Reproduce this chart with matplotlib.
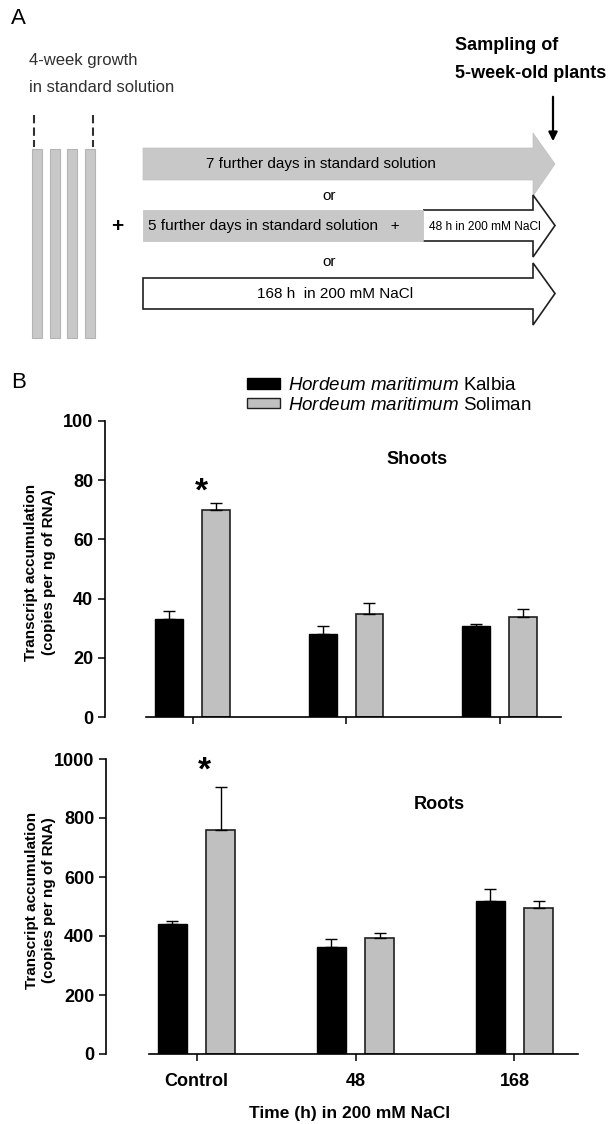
import numpy as np
import matplotlib
matplotlib.use('Agg')
import matplotlib.pyplot as plt
from matplotlib.patches import Polygon, Rectangle

# ---- data ----
groups = ['Control', '48', '168']
strains = ['Kalbia', 'Soliman']
shoots_kalbia = [33.2, 28.0, 30.6]
shoots_kalbia_err = [2.7, 2.8, 0.7]
shoots_soliman = [69.9, 34.9, 33.9]
shoots_soliman_err = [2.3, 3.7, 2.5]
roots_kalbia = [439, 362, 520]
roots_kalbia_err = [13, 27, 38]
roots_soliman = [758, 392, 495]
roots_soliman_err = [146, 17, 25]

plt.rcParams['font.family'] = ['Liberation Sans', 'DejaVu Sans']
plt.rcParams['mathtext.fontset'] = 'custom'
plt.rcParams['mathtext.it'] = 'Liberation Sans:italic'
plt.rcParams['mathtext.rm'] = 'Liberation Sans'

fig = plt.figure(figsize=(6.15, 11.24), dpi=100)

# ---- panel A : schematic drawn in pixel coordinates ----
sk = fig.add_axes([0, 0, 1, 1])
sk.set_xlim(0, 615)
sk.set_ylim(1124, 0)
sk.axis('off')

sk.text(11, 18, 'A', fontsize=16, va='center', ha='left')
sk.text(29, 60, '4-week growth', fontsize=12, color='#303030', va='center')
sk.text(29, 88, 'in standard solution', fontsize=12, color='#303030', va='center')
for x in (34, 93):
    sk.plot([x, x], [115, 147], color='#303030', lw=1.5, ls=(0, (4, 2)))
for x in (32, 50, 67, 85):
    sk.add_patch(Rectangle((x, 149), 10, 189, facecolor='#c8c8c8', edgecolor='#b4b4b4', lw=0.8))
sk.text(117, 227, '+', fontsize=15, fontweight='bold', ha='center', va='center')

x0, xb, xt = 143, 533, 555


def arrow(y0, y1, fc, ec, lw):
    yc = (y0 + y1) / 2
    pts = [(x0, y0), (xb, y0), (xb, y0 - 15), (xt, yc), (xb, y1 + 16), (xb, y1), (x0, y1)]
    sk.add_patch(Polygon(pts, closed=True, facecolor=fc, edgecolor=ec, lw=lw))


arrow(148, 180, '#c8c8c8', '#c0c0c0', 0.5)
sk.text(321, 164, '7 further days in standard solution', fontsize=11, ha='center', va='center')
sk.text(329, 196, 'or', fontsize=11, ha='center', va='center')
# second arrow: grey shaft then white NaCl part
pts = [(423, 210), (xb, 210), (xb, 195), (xt, 225.5), (xb, 257), (xb, 241), (423, 241)]
sk.add_patch(Polygon(pts, closed=False, facecolor='white', edgecolor='#202020', lw=1.2))
sk.add_patch(Rectangle((x0, 210), 423 - x0, 31, facecolor='#c8c8c8', edgecolor='#c0c0c0', lw=0.5))
sk.text(148, 226, '5 further days in standard solution   +', fontsize=11, ha='left', va='center')
sk.text(485, 227, '48 h in 200 mM NaCl', fontsize=8.6, ha='center', va='center')
sk.text(329, 262, 'or', fontsize=11, ha='center', va='center')
arrow(278, 309, 'white', '#202020', 1.2)
sk.text(335, 294, '168 h  in 200 mM NaCl', fontsize=11, ha='center', va='center')

sk.text(455, 46, 'Sampling of', fontsize=13, fontweight='bold', va='center')
sk.text(455, 74, '5-week-old plants', fontsize=13, fontweight='bold', va='center')
sk.annotate('', xy=(553, 144), xytext=(553, 94),
            arrowprops=dict(arrowstyle='-|>', color='black', lw=1.6, mutation_scale=13))

sk.text(11, 383, 'B', fontsize=16, va='center', ha='left')

# ---- panel B : bar charts ----
w = 0.18
off = 0.152
xpos = np.arange(len(groups))


def bars(ax, k, ke, s, se, ymax, step):
    ax.bar(xpos - off, k, w, color='black', edgecolor='black', lw=1,
           yerr=[np.zeros(3), ke], error_kw=dict(ecolor='black', elinewidth=1, capsize=4, capthick=1))
    ax.bar(xpos + off, s, w, color='#c0c0c0', edgecolor='#202020', lw=1.2,
           yerr=[np.zeros(3), se], error_kw=dict(ecolor='black', elinewidth=1, capsize=4, capthick=1))
    ax.set_ylim(0, ymax)
    ax.set_yticks(np.arange(0, ymax + 1, step))
    ax.set_xlim(-0.57, 2.40)
    ax.spines['top'].set_visible(False)
    ax.spines['right'].set_visible(False)
    ax.spines['bottom'].set_bounds(-0.30, 2.40)
    for sp in ('left', 'bottom'):
        ax.spines[sp].set_linewidth(1.2)
    ax.set_xticks(xpos)
    ax.tick_params(axis='both', direction='out', length=5, width=1.1, labelsize=13)
    for lb in ax.get_yticklabels():
        lb.set_fontweight('bold')
    ax.set_ylabel('Transcript accumulation\n(copies per ng of RNA)', fontsize=11, fontweight='bold',
                  linespacing=1.3)


ax1 = fig.add_axes([105 / 615, 1 - 717 / 1124, (561 - 105) / 615, (717 - 421) / 1124])
bars(ax1, shoots_kalbia, shoots_kalbia_err, shoots_soliman, shoots_soliman_err, 100, 20)
ax1.yaxis.set_label_coords(-0.108, 0.49)
ax1.set_xticklabels([])
ax1.text(1.46, 87, 'Shoots', fontsize=13, fontweight='bold', ha='center', va='center')
ax1.text(0.06, 76, '*', fontsize=24, fontweight='bold', ha='center', va='center')

ax2 = fig.add_axes([106 / 615, 1 - 1054 / 1124, (578 - 106) / 615, (1054 - 759) / 1124])
bars(ax2, roots_kalbia, roots_kalbia_err, roots_soliman, roots_soliman_err, 1000, 200)
ax2.yaxis.set_label_coords(-0.106, 0.52)
ax2.set_xticklabels(groups, fontweight='bold', fontsize=13)
ax2.tick_params(axis='x', pad=9)
ax2.set_xlabel('Time (h) in 200 mM NaCl', fontsize=12.5, fontweight='bold', labelpad=10)
ax2.xaxis.set_label_coords(0.515, -0.175)
ax2.text(1.53, 847, 'Roots', fontsize=13, fontweight='bold', ha='center', va='center')
ax2.text(0.05, 960, '*', fontsize=24, fontweight='bold', ha='center', va='center')

labels = [r'$\it{Hordeum\ maritimum}$ ' + s for s in strains]
handles = [Rectangle((0, 0), 1, 1, facecolor='black', edgecolor='black'),
           Rectangle((0, 0), 1, 1, facecolor='#c0c0c0', edgecolor='#202020')]
fig.legend(handles, labels, loc='upper left', bbox_to_anchor=(247 / 615, 1 - 377 / 1124),
           frameon=False, fontsize=13.5, handlelength=1.76, handleheight=0.48,
           labelspacing=0.15, handletextpad=0.45, borderpad=0, borderaxespad=0)

fig.savefig('out.png', dpi=100)
